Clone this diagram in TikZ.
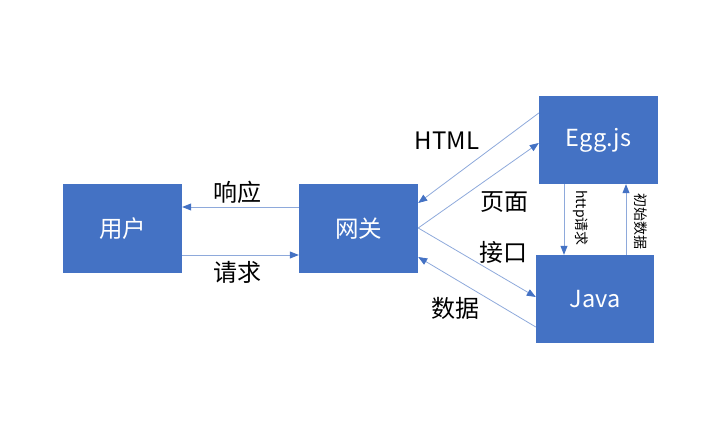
\documentclass[tikz,border=0pt]{standalone}
\usepackage{fontspec}
\setmainfont{Noto Sans CJK SC}
\usetikzlibrary{arrows.meta}
\definecolor{boxblue}{HTML}{4472C4}
\definecolor{linecol}{HTML}{8EA9DB}
\tikzset{
  blockbox/.style={rectangle, fill=boxblue, text=white, inner sep=0pt, font=\fontsize{23.5}{26}\selectfont},
  conn/.style={draw=linecol, line width=0.8pt, -{Triangle[length=9pt,width=7pt,color=boxblue,fill=boxblue]}},
  lbl/.style={font=\fontsize{24}{27}\selectfont, text=black, inner sep=0pt},
  smalllbl/.style={font=\fontsize{14}{16}\selectfont, text=black, inner sep=0pt, rotate=-90}
}
\begin{document}
\begin{tikzpicture}[x=1pt,y=-1pt]
\useasboundingbox (0,0) rectangle (720,441);
\node[blockbox, minimum width=119pt, minimum height=89pt] (user) at (122.5,228.5) {用户};
\node[blockbox, minimum width=119pt, minimum height=89pt] (gw) at (358.5,228.5) {网关};
\node[blockbox, minimum width=119pt, minimum height=88pt] (egg) at (598.5,140) {Egg.js};
\node[blockbox, minimum width=118pt, minimum height=88pt] (java) at (595,299) {Java};

\draw[conn] ([yshift=21.5pt]gw.west) -- ([yshift=21.5pt]user.east);
\draw[conn] ([yshift=-26.5pt]user.east) -- ([yshift=-26.5pt]gw.west);
\draw[conn] ([yshift=27pt]egg.west) -- ([yshift=25.5pt]gw.east);
\draw[conn] ([yshift=0.5pt]gw.east) -- ([yshift=-3pt]egg.west);
\draw[conn] ([yshift=0.5pt]gw.east) -- ([yshift=2pt]java.west);
\draw[conn] ([yshift=-28pt]java.west) -- ([yshift=-28.5pt]gw.east);
\draw[conn] ([xshift=-34.5pt]egg.south) -- ([xshift=-31pt]java.north);
\draw[conn] ([xshift=31pt]java.north) -- ([xshift=27.5pt]egg.south);

\node[lbl] (lresp) at (237.5,192) {响应};
\node[lbl] (lreq) at (237.5,272) {请求};
\node[lbl] (lhtml) at (447,141) {HTML};
\node[lbl] (lpage) at (504,202) {页面};
\node[lbl] (lapi) at (503,252) {接口};
\node[lbl] (ldata) at (455,308) {数据};
\node[smalllbl] (lhttp) at (581,218) {http请求};
\node[smalllbl] (linit) at (641,221) {初始数据};
\end{tikzpicture}
\end{document}
